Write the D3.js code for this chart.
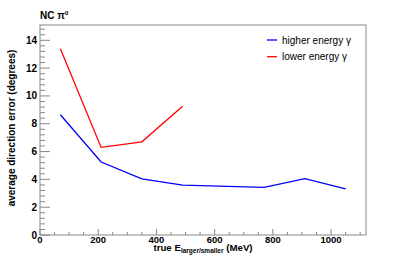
<!DOCTYPE html>
<html>
<head>
<meta charset="utf-8">
<script src="https://cdn.jsdelivr.net/npm/d3@7"></script>
<style>
  body { margin: 0; background: #fff; }
  text { font-family: "Liberation Sans", Arial, sans-serif; }
</style>
</head>
<body>
<div id="chart"></div>
<script>
// bin centres (MeV) and mean direction error (degrees)
const higherE = [70, 210, 350, 490, 770, 910, 1050];
const higherErr = [8.65, 5.25, 4.03, 3.58, 3.43, 4.05, 3.31];
const lowerE = [70, 210, 350, 490];
const lowerErr = [13.4, 6.3, 6.7, 9.25];
const xTicks = [0, 200, 400, 600, 800, 1000];
const yTicks = [0, 2, 4, 6, 8, 10, 12, 14];

const W = 407, H = 261;
const margin = { top: 25, right: 41, bottom: 26, left: 40 };
const width = W - margin.left - margin.right;
const height = H - margin.top - margin.bottom;

const svg = d3.select("#chart").append("svg")
    .attr("width", W)
    .attr("height", H);

const g = svg.append("g")
    .attr("transform", "translate(" + margin.left + "," + margin.top + ")");

const x = d3.scaleLinear().domain([0, 1120]).range([0, width]);
const y = d3.scaleLinear().domain([0, 15.1]).range([height, 0]);

const frameColor = "#888";

// frame
g.append("rect")
    .attr("width", width)
    .attr("height", height)
    .attr("fill", "none")
    .attr("stroke", frameColor)
    .attr("stroke-width", 1);

// x axis ticks (ROOT style, ticks pointing inward)
const xAxis = g.append("g").attr("transform", "translate(0," + height + ")");
xAxis.selectAll(".minor")
    .data(d3.range(0, 1120, 50))
    .enter().append("line")
    .attr("x1", d => x(d)).attr("x2", d => x(d))
    .attr("y1", 0).attr("y2", d => d % 200 === 0 ? -6 : -3)
    .attr("stroke", frameColor);
xAxis.selectAll("text")
    .data(xTicks)
    .enter().append("text")
    .attr("x", d => x(d))
    .attr("y", 8.2)
    .attr("text-anchor", "middle")
    .style("font-size", "9.5px")
    .style("font-weight", "bold")
    .text(d => d);

// y axis ticks
const yAxis = g.append("g");
yAxis.selectAll("line")
    .data(d3.range(0, 15.05, 0.4))
    .enter().append("line")
    .attr("y1", d => y(d)).attr("y2", d => y(d))
    .attr("x1", 0).attr("x2", d => Math.abs(d / 2 - Math.round(d / 2)) < 1e-6 ? 10 : 5)
    .attr("stroke", frameColor);
yAxis.selectAll("text")
    .data(yTicks)
    .enter().append("text")
    .attr("x", -3)
    .attr("y", d => y(d) + 3.5)
    .attr("text-anchor", "end")
    .style("font-size", "10px")
    .style("font-weight", "bold")
    .text(d => d);

// axis titles
const xTitle = svg.append("text")
    .attr("x", margin.left + width / 2)
    .attr("y", 250.5)
    .attr("text-anchor", "middle")
    .style("font-size", "9.7px")
    .style("font-weight", "bold");
xTitle.append("tspan").text("true E");
xTitle.append("tspan").attr("dy", 2).style("font-size", "6.5px").text("larger/smaller");
xTitle.append("tspan").attr("dy", -2).text(" (MeV)");

svg.append("text")
    .attr("transform", "translate(14.5,128) rotate(-90)")
    .attr("text-anchor", "middle")
    .style("font-size", "10px")
    .style("font-weight", "bold")
    .text("average direction error (degrees)");

// title
const title = svg.append("text")
    .attr("x", 40)
    .attr("y", 19)
    .style("font-size", "10px")
    .style("font-weight", "bold");
title.append("tspan").text("NC \u03c0");
title.append("tspan").attr("dy", -4).style("font-size", "6px").text("0");

// lines
const line = d3.line().x(d => x(d[0])).y(d => y(d[1]));
const series = [
    { label: "higher energy \u03b3", color: "#0000ff", pts: d3.zip(higherE, higherErr) },
    { label: "lower energy \u03b3", color: "#ff0000", pts: d3.zip(lowerE, lowerErr) }
];

g.selectAll(".series")
    .data(series)
    .enter().append("path")
    .attr("class", "series")
    .attr("d", d => line(d.pts))
    .attr("fill", "none")
    .attr("stroke", d => d.color)
    .attr("stroke-width", 1.3);

// legend
const legend = svg.append("g").attr("transform", "translate(267,40)");
legend.selectAll("line")
    .data(series)
    .enter().append("line")
    .attr("x1", 0).attr("x2", 10)
    .attr("y1", (d, i) => i * 16.7).attr("y2", (d, i) => i * 16.7)
    .attr("stroke", d => d.color)
    .attr("stroke-width", 1.3);
legend.selectAll("text")
    .data(series)
    .enter().append("text")
    .attr("x", 15)
    .attr("y", (d, i) => i * 16.7 + 3.5)
    .style("font-size", "10px")
    .text(d => d.label);
</script>
</body>
</html>
